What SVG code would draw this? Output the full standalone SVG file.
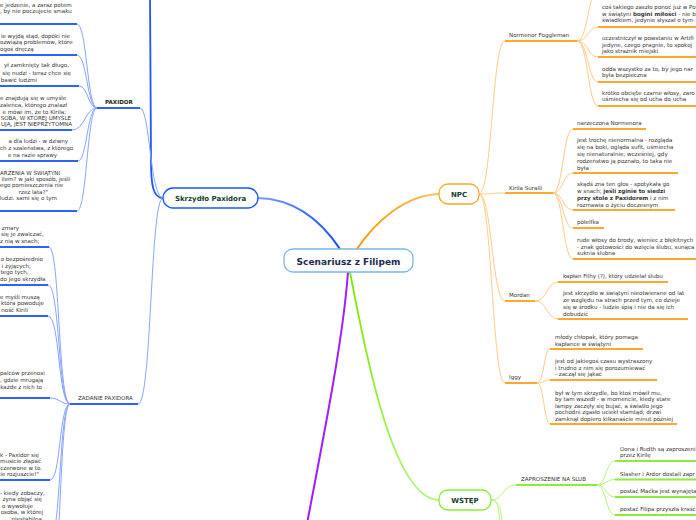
<svg xmlns="http://www.w3.org/2000/svg" width="696" height="520" viewBox="0 0 696 520">
<defs>
<linearGradient id="gB" gradientUnits="userSpaceOnUse" x1="340" y1="249" x2="258" y2="198"><stop offset="0" stop-color="#1446ff"/><stop offset="1" stop-color="#7d9dff"/></linearGradient>
<linearGradient id="gO" gradientUnits="userSpaceOnUse" x1="357" y1="249" x2="439" y2="194"><stop offset="0" stop-color="#ff9600"/><stop offset="1" stop-color="#ffc060"/></linearGradient>
<linearGradient id="gG" gradientUnits="userSpaceOnUse" x1="350" y1="272" x2="439" y2="500"><stop offset="0" stop-color="#77e800"/><stop offset="1" stop-color="#b2f57a"/></linearGradient>
<style>
.t{font-family:"DejaVu Sans",Verdana,sans-serif;font-size:5.55px;fill:#333}
.e{text-anchor:end}
.b{font-weight:bold}
.n{font-family:"DejaVu Sans",Verdana,sans-serif;font-weight:bold;fill:#15402f;text-anchor:middle}
.c{fill:none;stroke-width:1}
.cb{stroke:#86a5ff}
.co{stroke:#ffcb88}
.cg{stroke:#b5f57c}
.u{fill:none;stroke-width:2}
.ub{stroke:#2d62ff}
.uo{stroke:#ffa82e}
.ug{stroke:#8eea3c}
.box{fill:#fff;stroke-width:1.3}
</style>
</defs>
<rect width="696" height="520" fill="#fff"/>
<g id="connectors">
<path d="M340,249 C322,222 295,199 258,198" fill="none" stroke="url(#gB)" stroke-width="2"/>
<path d="M357,249 C375,222 405,195 439,194" fill="none" stroke="url(#gO)" stroke-width="2"/>
<path d="M350,272 C364,345 392,500 439,500" fill="none" stroke="url(#gG)" stroke-width="1.8"/>
<path d="M348,272 C343,340 325,430 300,560" fill="none" stroke="#a01eff" stroke-width="2"/>
<path d="M163,198 C153,198 151,185 151,160 L150,-5" fill="none" stroke="#1f55ff" stroke-width="1.8"/>
<path class="c cb" d="M163,198 C150,198 150,108 140,108"/>
<path class="c cb" d="M163,198 C150,198 152,404 138,404"/>
<path class="c cb" d="M97,108 C87,108 87,24 77,24"/>
<path class="c cb" d="M97,108 C87,108 87,55 77,55"/>
<path class="c cb" d="M97,108 C88,108 88,86 79,86"/>
<path class="c cb" d="M97,108 C85,108 85,130 72,130"/>
<path class="c cb" d="M97,108 C87,108 87,161 78,161"/>
<path class="c cb" d="M97,108 C87,108 87,211 77,211"/>
<path class="c cb" d="M70,404 C58,404 60,247 49,247"/>
<path class="c cb" d="M70,404 C58,404 60,285 48,285"/>
<path class="c cb" d="M70,404 C58,404 60,316 48,316"/>
<path class="c cb" d="M70,404 C60,404 60,398 50,398"/>
<path class="c cb" d="M70,404 C59,404 61,480 50,480"/>
<path class="c cb" d="M70,404 C59,404 61,540 50,540"/>
<path class="c cb" d="M70,404 C59,404 61,600 50,600"/>
<path class="c co" d="M479,194 C492,194 492,41 505,41"/>
<path class="c co" d="M479,194 C492,194 492,193 505,193"/>
<path class="c co" d="M479,194 C492,194 492,301 505,301"/>
<path class="c co" d="M479,194 C492,194 492,383 505,383"/>
<path class="c co" d="M577,41 C588,41 588,-10 598,-10"/>
<path class="c co" d="M577,41 C588,41 588,27 598,27"/>
<path class="c co" d="M577,41 C588,41 588,57 598,57"/>
<path class="c co" d="M577,41 C588,41 588,82 598,82"/>
<path class="c co" d="M577,41 C588,41 588,106 598,106"/>
<path class="c co" d="M553,193 C563,193 563,129 573,129"/>
<path class="c co" d="M553,193 C563,193 563,173 573,173"/>
<path class="c co" d="M553,193 C563,193 563,210 573,210"/>
<path class="c co" d="M553,193 C563,193 563,228 573,228"/>
<path class="c co" d="M553,193 C563,193 563,259 573,259"/>
<path class="c co" d="M535,301 C547,301 547,282 558,282"/>
<path class="c co" d="M535,301 C547,301 547,319 558,319"/>
<path class="c co" d="M537,383 C544,383 544,349 550,349"/>
<path class="c co" d="M537,383 C544,383 544,380 550,380"/>
<path class="c co" d="M537,383 C544,383 544,424 550,424"/>
<path class="c cg" d="M491,500 C503,500 503,485 516,485"/>
<path class="c cg" d="M491,500 C500,500 502,510 503,540"/>
<path class="c cg" d="M491,500 C499,500 500,512 500,540"/>
<path class="c cg" d="M597,485 C606,485 606,461 615,461"/>
<path class="c cg" d="M597,485 C606,485 606,479.5 615,479.5"/>
<path class="c cg" d="M597,485 C606,485 606,497 615,497"/>
<path class="c cg" d="M597,485 C606,485 606,515 615,515"/>
</g>
<g id="center"><rect class="box" x="284" y="249" width="129" height="23" rx="9" stroke="#7ab8e8"/><text class="n" x="348.5" y="264.5" font-size="9" style="fill:#1d2b4f">Scenariusz z Filipem</text></g>
<g id="skrzydlo"><rect class="box" x="163" y="188" width="95" height="20" rx="10" stroke="#1c55ff"/><text class="n" x="210.5" y="200.5" font-size="7">Skrzydło Paxidora</text></g>
<g id="npc"><rect class="box" x="439" y="184" width="40" height="20" rx="9" stroke="#ffa520"/><text class="n" x="459" y="196.5" font-size="7">NPC</text></g>
<g id="wstep"><rect class="box" x="439" y="490" width="52" height="20" rx="9" stroke="#88ee33"/><text class="n" x="465" y="502.5" font-size="7">WSTĘP</text></g>
<g id="paxidor"><line class="u ub" x1="97" y1="108" x2="140" y2="108"/><text class="t b" x="105" y="103.5" style="fill:#222">PAXIDOR</text></g>
<g id="p1"><line class="u ub" x1="-5" y1="24" x2="77" y2="24"/><text class="t" x="0" y="7">e jedzenie, a zaraz potem</text><text class="t" x="0" y="13">, by nie poczujecie smaku</text></g>
<g id="p2"><line class="u ub" x1="-5" y1="55" x2="77" y2="55"/><text class="t e" x="70" y="38">ie wyjdą stąd, dopóki nie</text><text class="t" x="0" y="44">ozwiążą problemów, które</text><text class="t" x="0" y="51">ogoś dręczą</text></g>
<g id="p3"><line class="u ub" x1="-5" y1="86" x2="79" y2="86"/><text class="t e" x="69" y="67">ył zamknięty tak długo,</text><text class="t e" x="71" y="74.5">się nudzi - teraz chce się</text><text class="t e" x="37" y="82">bawić ludźmi</text></g>
<g id="p4"><line class="u ub" x1="-5" y1="130" x2="72" y2="130"/><text class="t" x="0" y="100">e znajdują się w umyśle</text><text class="t" x="0" y="107">zaleńca, którego znalazł</text><text class="t e" x="66" y="114">e mówi im, że to Kirila;</text><text class="t e" x="71" y="120">SOBA, W KTÓREJ UMYŚLE</text><text class="t e" x="72" y="126">UJĄ, JEST NIEPRZYTOMNA</text></g>
<g id="p5"><line class="u ub" x1="-5" y1="161" x2="78" y2="161"/><text class="t e" x="68" y="143">a dla ludzi - w dziwny</text><text class="t" x="0" y="150">ch z szaleństwa, z którego</text><text class="t e" x="57" y="157">e na razie sprawy</text></g>
<g id="p6"><line class="u ub" x1="-5" y1="211" x2="77" y2="211"/><text class="t" x="0" y="174.5">ARZENIA W ŚWIĄTYNI</text><text class="t e" x="70" y="181">ilem? w jaki sposób, jeśli</text><text class="t" x="0" y="187">ego pomieszczenia nie</text><text class="t e" x="48" y="193.5">rzez lata?"</text><text class="t e" x="57" y="200">ludzi. sami się o tym</text></g>
<g id="zadanie"><line class="u ub" x1="70" y1="404" x2="138" y2="404"/><text class="t" x="78" y="400">ZADANIE PAXIDORA</text></g>
<g id="z1"><line class="u ub" x1="-5" y1="247" x2="49" y2="247"/><text class="t e" x="19" y="230">zmary</text><text class="t" x="1" y="236">się je zwalczać,</text><text class="t" x="0" y="243">z nią w snach;</text></g>
<g id="z2"><line class="u ub" x1="-5" y1="285" x2="48" y2="285"/><text class="t e" x="43" y="261">o bezpośrednio</text><text class="t e" x="31" y="268">i żyjących;</text><text class="t e" x="28.5" y="274">tego tych,</text><text class="t" x="0" y="281">do jego skrzydła</text></g>
<g id="z3"><line class="u ub" x1="-5" y1="316" x2="48" y2="316"/><text class="t" x="0" y="299">e myśli muszą</text><text class="t e" x="44" y="305">która powoduje</text><text class="t e" x="28" y="312">ność Kirili</text></g>
<g id="z4"><line class="u ub" x1="-5" y1="398" x2="50" y2="398"/><text class="t" x="0" y="375">palców przenosi</text><text class="t" x="0" y="381.7">, gdzie mrugają</text><text class="t e" x="42" y="388.5">każde z nich to</text></g>
<g id="z5"><line class="u ub" x1="-5" y1="480" x2="50" y2="480"/><text class="t" x="0" y="457">k - Paxidor się</text><text class="t" x="0" y="463">musicie złapać</text><text class="t e" x="42" y="469.5">czerwone w to.</text><text class="t e" x="39" y="476">ie rozjuszcie!"</text></g>
<g id="z6"><text class="t" x="0" y="494.5">- kiedy zobaczy,</text><text class="t e" x="42" y="501">zyna objąć się</text><text class="t e" x="33" y="507.5">o wywołuje</text><text class="t e" x="43" y="514">osoba, w której</text><text class="t e" x="42" y="520.5">niestabilna</text></g>
<g id="normenor"><line class="u uo" x1="505" y1="41" x2="577" y2="41"/><text class="t" x="509" y="37">Normenor Foggleman</text></g>
<g id="n1"><line class="u uo" x1="598" y1="27" x2="700" y2="27"/><text class="t" x="602" y="9">coś takiego zaszło ponoć już w Po</text><text class="t" x="602" y="15.5">w świątyni <tspan class="b">bogini miłości</tspan> - nie b</text><text class="t" x="602" y="22">świadkiem, jedynie słyszał o tym</text></g>
<g id="n2"><line class="u uo" x1="598" y1="57" x2="700" y2="57"/><text class="t" x="602" y="40">uczestniczył w powstaniu w Artifi</text><text class="t" x="602" y="46.5">jedyne, czego pragnie, to spokoj</text><text class="t" x="602" y="53">jako strażnik miejski</text></g>
<g id="n3"><line class="u uo" x1="598" y1="82" x2="700" y2="82"/><text class="t" x="602" y="71">odda wszystko za to, by jego nar</text><text class="t" x="602" y="77">była bezpieczna</text></g>
<g id="n4"><line class="u uo" x1="598" y1="106" x2="700" y2="106"/><text class="t" x="602" y="94.5">krótko obcięte czarne włosy, zaro</text><text class="t" x="602" y="101">uśmiecha się od ucha do ucha</text></g>
<g id="kirila"><line class="u uo" x1="505" y1="193" x2="553" y2="193"/><text class="t" x="509" y="190">Kirila Suralli</text></g>
<g id="k1"><line class="u uo" x1="573" y1="129" x2="646" y2="129"/><text class="t" x="577" y="125">narzeczona Normenora</text></g>
<g id="k2"><line class="u uo" x1="573" y1="173" x2="678" y2="173"/><text class="t" x="577" y="142">jest trochę nienormalna - rozgląda</text><text class="t" x="577" y="149">się na boki, ogląda sufit, uśmiecha</text><text class="t" x="577" y="156">się nienaturalnie; wcześniej, gdy</text><text class="t" x="577" y="163">rodzeństwo ją poznało, to taka nie</text><text class="t" x="577" y="170">była</text></g>
<g id="k3"><line class="u uo" x1="573" y1="210" x2="675" y2="210"/><text class="t" x="577" y="186">skądś zna ten głos - spotykała go</text><text class="t" x="577" y="193">w snach; <tspan class="b">jeśli zginie to siedzi</tspan></text><text class="t" x="577" y="200"><tspan class="b">przy stole z Paxidorem</tspan> i z nim</text><text class="t" x="577" y="207">rozmawia o życiu doczesnym</text></g>
<g id="k4"><line class="u uo" x1="573" y1="228" x2="604" y2="228"/><text class="t" x="577" y="224">półelfka</text></g>
<g id="k5"><line class="u uo" x1="573" y1="259" x2="700" y2="259"/><text class="t" x="577" y="242">rude włosy do brody, wieniec z błękitnych</text><text class="t" x="577" y="249">- znak gotowości do wzięcia ślubu, sunąca</text><text class="t" x="577" y="255">suknia ślubna</text></g>
<g id="mordan"><line class="u uo" x1="505" y1="301" x2="535" y2="301"/><text class="t" x="509" y="297">Mordan</text></g>
<g id="m1"><line class="u uo" x1="558" y1="282" x2="668" y2="282"/><text class="t" x="563" y="278">kapłan Filhy (?), który udzielał ślubu</text></g>
<g id="m2"><line class="u uo" x1="558" y1="319" x2="688" y2="319"/><text class="t" x="563" y="295">jest skrzydło w świątyni nieotwierane od lat</text><text class="t" x="563" y="302">ze względu na strach przed tym, co dzieje</text><text class="t" x="563" y="309">się w środku - ludzie śpią i nie da się ich</text><text class="t" x="563" y="315.5">dobudzić</text></g>
<g id="iggy"><line class="u uo" x1="505" y1="383" x2="537" y2="383"/><text class="t" x="509" y="379">Iggy</text></g>
<g id="i1"><line class="u uo" x1="550" y1="349" x2="643" y2="349"/><text class="t" x="555" y="339">młody chłopak, który pomaga</text><text class="t" x="555" y="345.5">kapłance w świątyni</text></g>
<g id="i2"><line class="u uo" x1="550" y1="380" x2="657" y2="380"/><text class="t" x="555" y="363">jest od jakiegoś czasu wystraszony</text><text class="t" x="555" y="369.5">i trudno z nim się porozumiewać</text><text class="t" x="555" y="376">- zaczął się jąkać</text></g>
<g id="i3"><line class="u uo" x1="550" y1="424" x2="677" y2="424"/><text class="t" x="555" y="394.5">był w tym skrzydle, bo ktoś mówił mu,</text><text class="t" x="555" y="401">by tam wszedł - w momencie, kiedy stare</text><text class="t" x="555" y="407.5">lampy zaczęły się bujać, a światło jego</text><text class="t" x="555" y="414">pochodni zgasło uciekł stamtąd; drzwi</text><text class="t" x="555" y="420.5">zamknął dopiero kilkanaście minut później</text></g>
<g id="zaproszenie"><line class="u ug" x1="516" y1="485" x2="597" y2="485"/><text class="t" x="521" y="481">ZAPROSZENIE NA ŚLUB</text></g>
<g id="w1"><line class="u ug" x1="615" y1="461" x2="700" y2="461"/><text class="t" x="620" y="450.5">Oona i Rudth są zaproszeni</text><text class="t" x="620" y="457">przez Kirilę</text></g>
<g id="w2"><line class="u ug" x1="615" y1="479.5" x2="700" y2="479.5"/><text class="t" x="620" y="476">Slasher i Ardor dostali zapr</text></g>
<g id="w3"><line class="u ug" x1="615" y1="497" x2="700" y2="497"/><text class="t" x="620" y="493">postać Maćka jest wynajęta</text></g>
<g id="w4"><line class="u ug" x1="615" y1="515" x2="700" y2="515"/><text class="t" x="620" y="511">postać Filipa przyszła kraść</text></g>
</svg>
